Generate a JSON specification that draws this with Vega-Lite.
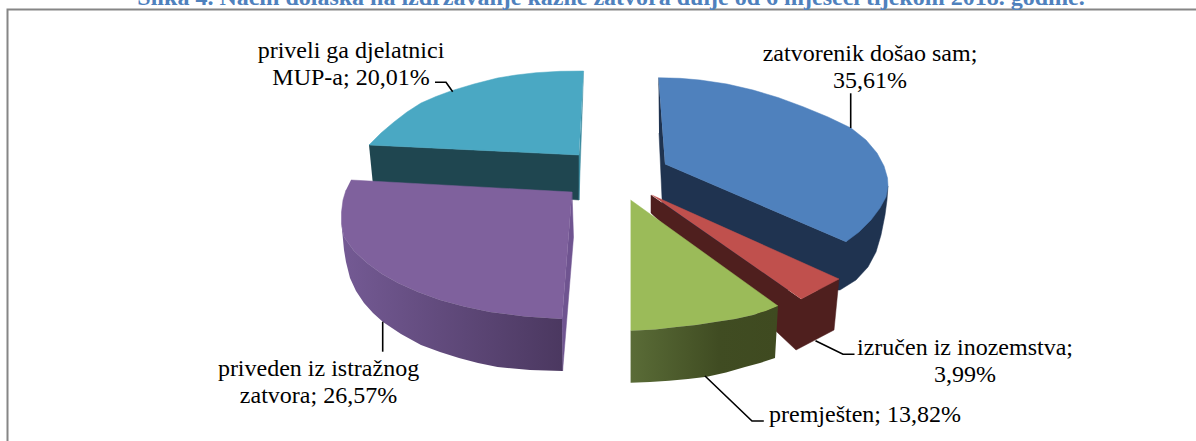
{
"$schema":"https://vega.github.io/schema/vega-lite/v6.json",
"width":1196,"height":441,
"padding":0,
"autosize":{"type":"none"},
"background":"white",
"view":{"stroke":null},
"datasets":{
"faces":[
{"face":"teal side","o":1,"x":369,"y":145},{"face":"teal side","o":2,"x":579,"y":155},{"face":"teal side","o":3,"x":579,"y":200},{"face":"teal side","o":4,"x":373,"y":185},
{"face":"teal edge","o":1,"x":583.6,"y":71},{"face":"teal edge","o":2,"x":579,"y":200},{"face":"teal edge","o":3,"x":579,"y":155},
{"face":"teal top","o":1,"x":583.6,"y":71},{"face":"teal top","o":2,"x":560,"y":71.3},{"face":"teal top","o":3,"x":536,"y":72.7},{"face":"teal top","o":4,"x":516,"y":75},{"face":"teal top","o":5,"x":497.5,"y":78},{"face":"teal top","o":6,"x":474,"y":84},{"face":"teal top","o":7,"x":451.6,"y":90.7},{"face":"teal top","o":8,"x":436,"y":96.5},{"face":"teal top","o":9,"x":421,"y":103},{"face":"teal top","o":10,"x":407,"y":112},{"face":"teal top","o":11,"x":394,"y":122},{"face":"teal top","o":12,"x":381,"y":133},{"face":"teal top","o":13,"x":369,"y":145},{"face":"teal top","o":14,"x":579,"y":155},
{"face":"purple edge","o":1,"x":572,"y":192},{"face":"purple edge","o":2,"x":573.5,"y":237},{"face":"purple edge","o":3,"x":562.6,"y":371},{"face":"purple edge","o":4,"x":562,"y":319},
{"face":"purple top","o":1,"x":351,"y":180},{"face":"purple top","o":2,"x":572,"y":192},{"face":"purple top","o":3,"x":562,"y":319},{"face":"purple top","o":4,"x":525,"y":316.5},{"face":"purple top","o":5,"x":490,"y":312},{"face":"purple top","o":6,"x":464,"y":306.5},{"face":"purple top","o":7,"x":440,"y":300},{"face":"purple top","o":8,"x":418,"y":292},{"face":"purple top","o":9,"x":398,"y":283},{"face":"purple top","o":10,"x":382,"y":274},{"face":"purple top","o":11,"x":367,"y":263},{"face":"purple top","o":12,"x":354,"y":251},{"face":"purple top","o":13,"x":344,"y":237},{"face":"purple top","o":14,"x":341.5,"y":224},{"face":"purple top","o":15,"x":341.5,"y":212},{"face":"purple top","o":16,"x":343,"y":200},{"face":"purple top","o":17,"x":346,"y":190},
{"face":"blue side","o":1,"x":658.5,"y":77.7},{"face":"blue side","o":2,"x":665,"y":164},{"face":"blue side","o":3,"x":846,"y":241.7},{"face":"blue side","o":4,"x":888,"y":186},{"face":"blue side","o":5,"x":887,"y":200},{"face":"blue side","o":6,"x":885,"y":215},{"face":"blue side","o":7,"x":881,"y":235},{"face":"blue side","o":8,"x":876,"y":252},{"face":"blue side","o":9,"x":868,"y":267},{"face":"blue side","o":10,"x":856,"y":280},{"face":"blue side","o":11,"x":840,"y":290},{"face":"blue side","o":12,"x":760,"y":290},{"face":"blue side","o":13,"x":663,"y":220},{"face":"blue side","o":14,"x":659,"y":133},
{"face":"blue top","o":1,"x":658.5,"y":77.7},{"face":"blue top","o":2,"x":680,"y":78.3},{"face":"blue top","o":3,"x":700,"y":80},{"face":"blue top","o":4,"x":727,"y":84},{"face":"blue top","o":5,"x":753,"y":90},{"face":"blue top","o":6,"x":778,"y":97.5},{"face":"blue top","o":7,"x":803,"y":106.7},{"face":"blue top","o":8,"x":828,"y":117},{"face":"blue top","o":9,"x":851,"y":128},{"face":"blue top","o":10,"x":866,"y":140},{"face":"blue top","o":11,"x":877,"y":153},{"face":"blue top","o":12,"x":884,"y":166},{"face":"blue top","o":13,"x":887.5,"y":178},{"face":"blue top","o":14,"x":888,"y":186},{"face":"blue top","o":15,"x":886,"y":197},{"face":"blue top","o":16,"x":880,"y":208},{"face":"blue top","o":17,"x":871,"y":220},{"face":"blue top","o":18,"x":859,"y":232},{"face":"blue top","o":19,"x":846,"y":241.7},{"face":"blue top","o":20,"x":665,"y":164},
{"face":"red side","o":1,"x":651,"y":195},{"face":"red side","o":2,"x":651,"y":213},{"face":"red side","o":3,"x":796,"y":350},{"face":"red side","o":4,"x":834,"y":330},{"face":"red side","o":5,"x":839,"y":279},{"face":"red side","o":6,"x":801,"y":299},
{"face":"red top","o":1,"x":651.7,"y":195},{"face":"red top","o":2,"x":839,"y":279},{"face":"red top","o":3,"x":801,"y":299},
{"face":"green top","o":1,"x":630.6,"y":200},{"face":"green top","o":2,"x":778,"y":306},{"face":"green top","o":3,"x":766,"y":311},{"face":"green top","o":4,"x":753,"y":315},{"face":"green top","o":5,"x":735,"y":319},{"face":"green top","o":6,"x":715,"y":322},{"face":"green top","o":7,"x":696,"y":325},{"face":"green top","o":8,"x":676.5,"y":327},{"face":"green top","o":9,"x":655,"y":329.5},{"face":"green top","o":10,"x":630.6,"y":330.7},
{"face":"purple side","o":1,"x":341.5,"y":224},{"face":"purple side","o":2,"x":344,"y":237},{"face":"purple side","o":3,"x":354,"y":251},{"face":"purple side","o":4,"x":367,"y":263},{"face":"purple side","o":5,"x":382,"y":274},{"face":"purple side","o":6,"x":398,"y":283},{"face":"purple side","o":7,"x":418,"y":292},{"face":"purple side","o":8,"x":440,"y":300},{"face":"purple side","o":9,"x":464,"y":306.5},{"face":"purple side","o":10,"x":490,"y":312},{"face":"purple side","o":11,"x":525,"y":316.5},{"face":"purple side","o":12,"x":562,"y":319},{"face":"purple side","o":13,"x":562.6,"y":371},{"face":"purple side","o":14,"x":530,"y":370},{"face":"purple side","o":15,"x":497.5,"y":367},{"face":"purple side","o":16,"x":478,"y":363},{"face":"purple side","o":17,"x":459,"y":358},{"face":"purple side","o":18,"x":440,"y":352},{"face":"purple side","o":19,"x":421,"y":345},{"face":"purple side","o":20,"x":401,"y":334},{"face":"purple side","o":21,"x":383,"y":322},{"face":"purple side","o":22,"x":373,"y":313},{"face":"purple side","o":23,"x":364,"y":303},{"face":"purple side","o":24,"x":356,"y":291},{"face":"purple side","o":25,"x":350,"y":278},{"face":"purple side","o":26,"x":346,"y":262},{"face":"purple side","o":27,"x":344,"y":250},
{"face":"green side","o":1,"x":630.6,"y":330.7},{"face":"green side","o":2,"x":655,"y":329.5},{"face":"green side","o":3,"x":676.5,"y":327},{"face":"green side","o":4,"x":696,"y":325},{"face":"green side","o":5,"x":715,"y":322},{"face":"green side","o":6,"x":735,"y":319},{"face":"green side","o":7,"x":753,"y":315},{"face":"green side","o":8,"x":766,"y":311},{"face":"green side","o":9,"x":778,"y":306},{"face":"green side","o":10,"x":775,"y":358},{"face":"green side","o":11,"x":760,"y":363},{"face":"green side","o":12,"x":745,"y":367},{"face":"green side","o":13,"x":726,"y":372.5},{"face":"green side","o":14,"x":707,"y":376.7},{"face":"green side","o":15,"x":688,"y":379},{"face":"green side","o":16,"x":669,"y":380.7},{"face":"green side","o":17,"x":650,"y":382},{"face":"green side","o":18,"x":630.6,"y":382.7}
],
"leaders":[
{"id":"border","o":1,"x":7.5,"y":441},{"id":"border","o":2,"x":7.5,"y":9.5},{"id":"border","o":3,"x":1196,"y":9.5},
{"id":"teal","o":1,"x":435,"y":82.3},{"id":"teal","o":2,"x":446,"y":82.3},{"id":"teal","o":3,"x":452.7,"y":91.7},
{"id":"blue","o":1,"x":850.7,"y":93.3},{"id":"blue","o":2,"x":850.7,"y":128},
{"id":"purple","o":1,"x":382.7,"y":321.7},{"id":"purple","o":2,"x":382.7,"y":351.7},
{"id":"red","o":1,"x":815.5,"y":340.7},{"id":"red","o":2,"x":843,"y":354.3},{"id":"red","o":3,"x":854.5,"y":354.3},
{"id":"green","o":1,"x":705,"y":376},{"id":"green","o":2,"x":752,"y":421},{"id":"green","o":3,"x":763.8,"y":421}
],
"labels":[
{"label":"priveli ga djelatnici\nMUP-a; 20,01%","x":351,"y":51},
{"label":"zatvorenik došao sam;\n35,61%","x":870,"y":54},
{"label":"priveden iz istražnog\nzatvora; 26,57%","x":318.5,"y":369},
{"label":"izručen iz inozemstva;\n3,99%","x":965,"y":348},
{"label":"premješten; 13,82%","x":865,"y":415}
],
"title":[{"label":"Slika 4. Način dolaska na izdržavanje kazne zatvora dulje od 6 mjeseci tijekom 2018. godine.","x":611,"y":5}]
},
"data":{"name":"faces"},
"encoding":{
"x":{"field":"x","type":"quantitative","scale":{"domain":[0,1196],"nice":false,"zero":false},"axis":null},
"y":{"field":"y","type":"quantitative","scale":{"domain":[441,0],"nice":false,"zero":false},"axis":null}
},
"layer":[
{"transform":[{"filter":"datum.face!='purple side'&&datum.face!='green side'"}],
"mark":{"type":"line","strokeWidth":0.5,"interpolate":"linear"},
"encoding":{
"order":{"field":"o","type":"quantitative"},
"fill":{"field":"face","type":"nominal","legend":null,"scale":{"domain":["teal side","teal edge","teal top","purple edge","purple top","blue side","blue top","red side","red top","green top"],"range":["#1f4650","#3a8a9f","#4aa8c3","#6f5490","#7f619d","#1f3350","#4f81bd","#4f1f1e","#c0504d","#9bbb59"]}},
"stroke":{"field":"face","type":"nominal","legend":null,"scale":{"domain":["teal side","teal edge","teal top","purple edge","purple top","blue side","blue top","red side","red top","green top"],"range":["#1f4650","#3a8a9f","#4aa8c3","#6f5490","#7f619d","#1f3350","#4f81bd","#4f1f1e","#c0504d","#9bbb59"]}}
}},
{"transform":[{"filter":"datum.face=='purple side'"}],
"mark":{"type":"line","stroke":null,"fill":{"gradient":"linear","x1":0,"x2":1,"y1":0,"y2":0,"stops":[{"offset":0,"color":"#745a94"},{"offset":1,"color":"#4b3860"}]}},
"encoding":{"order":{"field":"o","type":"quantitative"}}},
{"transform":[{"filter":"datum.face=='green side'"}],
"mark":{"type":"line","stroke":null,"fill":{"gradient":"linear","x1":0,"x2":1,"y1":0,"y2":0,"stops":[{"offset":0,"color":"#5a6c37"},{"offset":0.6,"color":"#404c22"},{"offset":1,"color":"#3f4a20"}]}},
"encoding":{"order":{"field":"o","type":"quantitative"}}},
{"data":{"name":"leaders"},"transform":[{"filter":"datum.id!='border'"}],
"mark":{"type":"line","color":"#000000","strokeWidth":1.6},
"encoding":{"detail":{"field":"id"},"order":{"field":"o","type":"quantitative"}}},
{"data":{"name":"leaders"},"transform":[{"filter":"datum.id=='border'"}],
"mark":{"type":"line","color":"#868686","strokeWidth":2},
"encoding":{"order":{"field":"o","type":"quantitative"}}},
{"data":{"name":"labels"},
"mark":{"type":"text","font":"Liberation Serif","fontSize":24,"color":"#000000","align":"center","baseline":"middle","lineBreak":"\n","lineHeight":26.5},
"encoding":{"text":{"field":"label"}}},
{"data":{"name":"title"},
"mark":{"type":"text","font":"Liberation Serif","fontSize":24,"fontWeight":"bold","color":"#4f81bd","align":"center","baseline":"alphabetic"},
"encoding":{"text":{"field":"label"}}}
]
}
